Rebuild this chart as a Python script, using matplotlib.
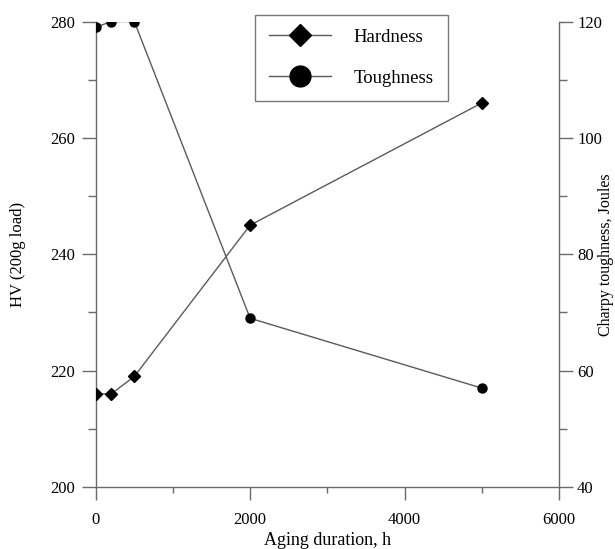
import matplotlib
matplotlib.use('Agg')
import matplotlib.pyplot as plt
from matplotlib.lines import Line2D
from matplotlib.ticker import MultipleLocator

# aging duration (h) and measured properties
aging_hours = [0, 200, 500, 2000, 5000]
hardness_hv = [216, 216, 219, 245, 266]
toughness_j = [119, 120, 120, 69, 57]

x_ticks = [0, 2000, 4000, 6000]
hv_ticks = [200, 220, 240, 260, 280]
charpy_ticks = [40, 60, 80, 100, 120]

plt.rcParams['font.family'] = ['Liberation Serif', 'DejaVu Serif']
line_color = '#5a5a5a'
axis_color = '#6a6a6a'

fig = plt.figure(figsize=(6.15, 5.49), dpi=100)
ax = fig.add_axes([0.1556, 0.1129, 0.7533, 0.8479])
ax2 = ax.twinx()

ax.plot(aging_hours, hardness_hv, color=line_color, lw=1.0,
        marker='D', markersize=6, mfc='black', mec='black', zorder=3)
ax2.plot(aging_hours, toughness_j, color=line_color, lw=1.0,
         marker='o', markersize=6.5, mfc='black', mec='black', zorder=3)

ax.set_xlim(0, 6000)
ax.set_ylim(200, 280)
ax2.set_ylim(40, 120)

ax.set_xticks(x_ticks)
ax.set_yticks(hv_ticks)
ax2.set_yticks(charpy_ticks)
ax.xaxis.set_minor_locator(MultipleLocator(1000))
ax.yaxis.set_minor_locator(MultipleLocator(10))
ax2.yaxis.set_minor_locator(MultipleLocator(10))

for a in (ax, ax2):
    a.spines['top'].set_visible(False)
    for s in a.spines.values():
        s.set_color(axis_color)
        s.set_linewidth(1.0)
ax.spines['right'].set_visible(False)
ax2.spines['left'].set_visible(False)
ax2.spines['bottom'].set_visible(False)

ax.tick_params(axis='x', which='major', direction='out', length=9, width=1,
               color=axis_color, labelsize=12, pad=9)
ax.tick_params(axis='x', which='minor', direction='out', length=4, width=1,
               color=axis_color)
ax.tick_params(axis='y', which='major', direction='out', length=10, width=1,
               color=axis_color, labelsize=12, pad=5)
ax.tick_params(axis='y', which='minor', direction='out', length=6, width=1,
               color=axis_color)
ax2.tick_params(axis='y', which='major', direction='out', length=10, width=1,
                color=axis_color, labelsize=12, pad=3)
ax2.tick_params(axis='y', which='minor', direction='out', length=6, width=1,
                color=axis_color)

ax.set_xlabel('Aging duration, h', fontsize=13, labelpad=3)
ax.set_ylabel('HV (200g load)', fontsize=12)
ax2.set_ylabel('Charpy toughness, Joules', fontsize=11.5)
ax.yaxis.set_label_coords(-0.150, 0.5)
ax2.yaxis.set_label_coords(1.084, 0.5)

handles = [
    Line2D([], [], color=line_color, lw=1.0, marker='D', markersize=11,
           mfc='black', mec='black'),
    Line2D([], [], color=line_color, lw=1.0, marker='o', markersize=15,
           mfc='black', mec='black'),
]
leg = fig.legend(handles, ['Hardness', 'Toughness'], loc='upper left',
                 bbox_to_anchor=(0.415, 0.973), borderaxespad=0,
                 fontsize=13.5, handlelength=3.3, handletextpad=1.2,
                 borderpad=0.75, labelspacing=1.25, fancybox=False,
                 framealpha=1)
leg.get_frame().set_edgecolor('#777777')
leg.get_frame().set_linewidth(1.0)

fig.savefig('out.png', dpi=100)
